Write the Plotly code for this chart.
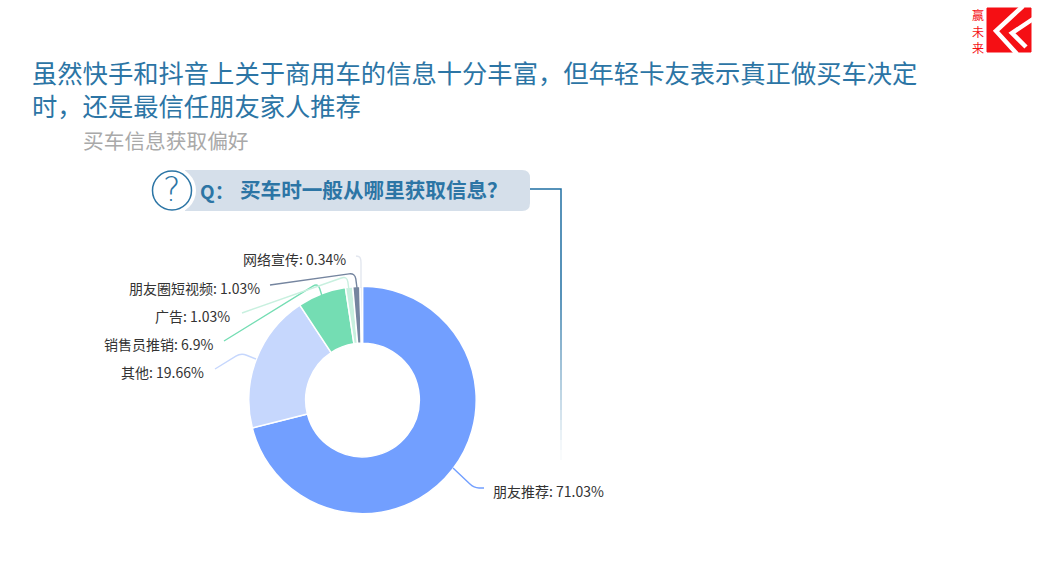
import plotly.graph_objects as go

W, H = 1037, 575
categories = ["朋友推荐", "其他", "销售员推销", "广告", "朋友圈短视频", "网络宣传"]
values = [71.03, 19.66, 6.9, 1.03, 1.03, 0.34]
colors = ["#729FFF", "#C6D7FD", "#74DDB3", "#C8F0DF", "#75859F", "#E3E7EF"]
title_lines = ["虽然快手和抖音上关于商用车的信息十分丰富，但年轻卡友表示真正做买车决定", "时，还是最信任朋友家人推荐"]
subtitle = "买车信息获取偏好"
question = "买车时一般从哪里获取信息？"
logo_chars = ["赢", "未", "来"]

CJK = "Noto Sans CJK SC, Noto Sans, sans-serif"
BLUE = "#2C75A5"

def px(x): return x / W
def py(y): return 1 - y / H

def poly(points):
    p = [(px(x), py(y)) for x, y in points]
    return "M " + " L ".join(f"{a},{b}" for a, b in p)

def elbow(a, b, c, r=6):
    # a -> b -> c with the corner at b rounded
    def toward(p, q):
        d = ((q[0] - p[0]) ** 2 + (q[1] - p[1]) ** 2) ** 0.5
        t = min(r, d / 2) / d
        return (p[0] + (q[0] - p[0]) * t, p[1] + (q[1] - p[1]) * t)
    s, e = toward(b, a), toward(b, c)
    return (f"M {px(a[0])},{py(a[1])} L {px(s[0])},{py(s[1])} "
            f"Q {px(b[0])},{py(b[1])} {px(e[0])},{py(e[1])} L {px(c[0])},{py(c[1])}")

cx, cy, R = 362.5, 400, 113.7
fig = go.Figure(go.Pie(
    labels=categories, values=values, sort=False, direction="clockwise", rotation=0,
    hole=0.5, textinfo="none", hoverinfo="skip", showlegend=False,
    marker=dict(colors=colors, line=dict(color="white", width=1.5)),
    domain=dict(x=[px(cx - R), px(cx + R)], y=[py(cy + R), py(cy - R)]),
))

shapes, ann = [], []

def text(x, y, s, size, color, anchor="left", bold=False, family=CJK):
    # annotation boxes carry about 3px of padding horizontally
    dx = {"left": -3, "right": 3, "center": 0}[anchor]
    ann.append(dict(x=px(x + dx), y=py(y), xref="paper", yref="paper", text=f"<b>{s}</b>" if bold else s,
                    showarrow=False, xanchor=anchor, yanchor="middle", align=anchor,
                    font=dict(size=size, color=color, family=family)))

# title
text(33, 88, "<br>".join(title_lines), 25.3, BLUE)
text(84, 140, subtitle, 20.7, "#A9A9A9")

# question pill
shapes.append(dict(type="path", xref="paper", yref="paper", line=dict(width=0), fillcolor="#D5DFEA",
    path=f"M {px(185)},{py(170)} L {px(522)},{py(170)} Q {px(530)},{py(170)} {px(530)},{py(178)} L {px(530)},{py(203)} Q {px(530)},{py(211)} {px(522)},{py(211)} L {px(185)},{py(211)} Z"))
shapes.append(dict(type="circle", xref="paper", yref="paper", x0=px(149), x1=px(196), y0=py(214), y1=py(167),
                   fillcolor="white", line=dict(width=0)))
shapes.append(dict(type="circle", xref="paper", yref="paper", x0=px(152.5), x1=px(191.5), y0=py(210), y1=py(171),
                   fillcolor="white", line=dict(color=BLUE, width=1.5)))
text(172, 189, "?", 33, BLUE, "center", family="DejaVu Sans Light, DejaVu Sans ExtraLight, Liberation Sans")
text(201, 190, "Q：", 19, BLUE, bold=True)
text(241, 189, question, 20.6, BLUE, bold=True)

# bracket line, fading
BRACKET = "#1F6FA3"
shapes.append(dict(type="path", xref="paper", yref="paper", line=dict(color=BRACKET, width=1.5),
                   path=poly([(530, 189), (561, 189), (561, 300)])))
for i in range(16):
    y0 = 300 + i * 10
    shapes.append(dict(type="line", xref="paper", yref="paper", x0=px(561), x1=px(561), y0=py(y0), y1=py(y0 + 10),
                       line=dict(color=BRACKET, width=1.5), opacity=max(0.03, 1 - (i + 1) / 16)))

# slice leader lines and labels
leaders = [
    [(453, 468), (474, 488), (484, 488)],
    [(256, 359), (241, 353), (215, 369)],
    [(322, 296), (318, 283), (224, 341)],
    [(349, 290), (347, 276), (242, 313)],
    [(357, 288), (355, 273), (270, 285)],
    [(361, 288), (361, 257), (356, 256)],
]
label_pos = [(494, 491, "left"), (203, 372, "right"), (212, 344, "right"),
             (229, 316, "right"), (259, 288, "right"), (345, 259, "right")]
for c, v, col, l, (x, y, a) in zip(categories, values, colors, leaders, label_pos):
    shapes.append(dict(type="path", xref="paper", yref="paper", path=elbow(*l), line=dict(color=col, width=1.4)))
    text(x, y, f"{c}: {v}%", 14, "#333333", a)

# logo
RED = "#F50F14"
shapes.append(dict(type="rect", xref="paper", yref="paper", x0=px(987), x1=px(1031), y0=py(52), y1=py(8),
                   fillcolor=RED, line=dict(color=RED, width=1)))
shapes.append(dict(type="path", xref="paper", yref="paper", line=dict(color="white", width=4.5),
                   path=poly([(1023, 6), (996, 31), (1017, 54)])))
shapes.append(dict(type="path", xref="paper", yref="paper", line=dict(color="white", width=4.5),
                   path=poly([(1033, 19), (1012, 33), (1026, 47)])))
for ch, y in zip(logo_chars, [15, 31, 47]):
    text(978, y, ch, 12, RED, "center")

fig.update_layout(width=W, height=H, margin=dict(l=0, r=0, t=0, b=0), paper_bgcolor="white",
                  plot_bgcolor="white", shapes=shapes, annotations=ann)
fig.write_html("out.html", config=dict(displayModeBar=False), post_script="document.body.style.margin='0';")
